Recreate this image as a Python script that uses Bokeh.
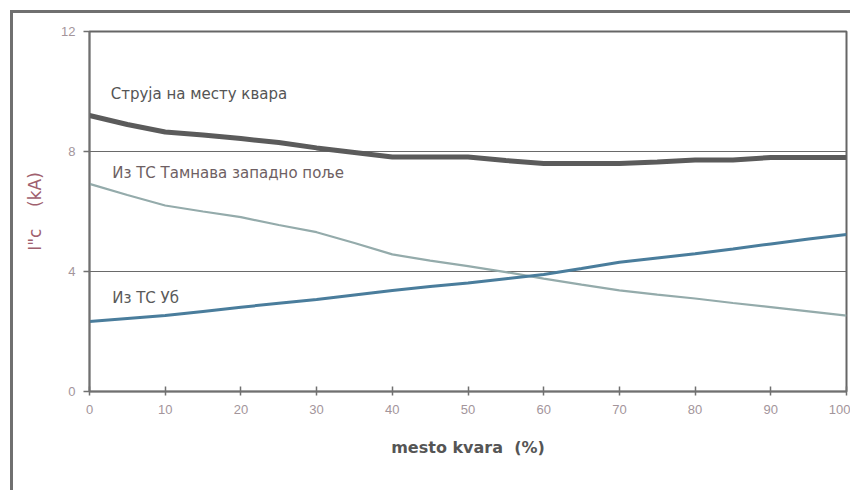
from bokeh.plotting import figure
from bokeh.embed import file_html
from bokeh.resources import INLINE
from bokeh.models import FixedTicker, Label

# fault location (%)
x_pos = [0, 5, 10, 15, 20, 25, 30, 35, 40, 45, 50, 55, 60, 65, 70, 75, 80, 85, 90, 95, 100]
# fault current at fault location (kA)
i_fault = [9.2, 8.9, 8.65, 8.55, 8.43, 8.3, 8.12, 7.97, 7.82, 7.82, 7.82, 7.7, 7.6, 7.6, 7.6, 7.65, 7.72, 7.72, 7.8, 7.8, 7.8]
# from substation Tamnava west field (kA)
i_tamnava = [6.92, 6.55, 6.2, 6.0, 5.81, 5.55, 5.31, 4.95, 4.57, 4.36, 4.18, 3.98, 3.76, 3.56, 3.37, 3.23, 3.1, 2.95, 2.81, 2.67, 2.53]
# from substation Ub (kA)
i_ub = [2.33, 2.43, 2.53, 2.67, 2.81, 2.94, 3.07, 3.22, 3.37, 3.5, 3.62, 3.76, 3.9, 4.1, 4.31, 4.45, 4.59, 4.75, 4.92, 5.08, 5.23]

x_ticks = [0, 10, 20, 30, 40, 50, 60, 70, 80, 90, 100]
y_ticks = [0, 4, 8, 12]

series_labels = ["Струја на месту квара", "Из ТС Тамнава западно поље", "Из ТС Уб"]
label_x = [2.8, 3.0, 3.0]
label_y = [9.93, 7.3, 3.13]

W, H = 840, 480
p = figure(width=W, height=H, x_range=(0, 100), y_range=(0, 12),
           output_backend="svg", toolbar_location=None,
           min_border_left=76, min_border_right=7, min_border_top=18, min_border_bottom=102)
p.margin = (10, 0, 0, 10)
p.styles = {"border-left": "3px solid #707070", "border-top": "3px solid #707070"}

p.background_fill_color = "white"
p.border_fill_color = "white"
p.outline_line_color = "#666666"
p.outline_line_width = 2

tick_col = "#a3959b"
ax_col = "#707070"
for ax in (p.xaxis[0], p.yaxis[0]):
    ax.axis_line_color = ax_col
    ax.axis_line_width = 1.5
    ax.major_tick_line_color = ax_col
    ax.major_tick_line_width = 1.5
    ax.minor_tick_line_color = None
    ax.major_label_text_color = tick_col
    ax.major_label_text_font = "Liberation Sans"
    ax.major_label_text_font_size = "13px"

p.xaxis.ticker = FixedTicker(ticks=x_ticks)
p.yaxis.ticker = FixedTicker(ticks=y_ticks)
p.xaxis.major_tick_in = 5
p.xaxis.major_tick_out = 4
p.yaxis.major_tick_in = 0
p.yaxis.major_tick_out = 6
p.xaxis.major_label_standoff = 9
p.yaxis.major_label_standoff = 8

p.xaxis.axis_label = "mesto kvara\u00a0\u00a0(%)"
p.xaxis.axis_label_text_font = "DejaVu Sans"
p.xaxis.axis_label_text_font_style = "bold"
p.xaxis.axis_label_text_font_size = "16px"
p.xaxis.axis_label_text_color = "#555555"
p.xaxis.axis_label_standoff = 21

p.yaxis.axis_label = 'I"c\u00a0\u00a0\u00a0\u00a0(kA)'
p.yaxis.axis_label_text_font = "DejaVu Sans"
p.yaxis.axis_label_text_font_style = "normal"
p.yaxis.axis_label_text_font_size = "17px"
p.yaxis.axis_label_text_color = "#a0606e"
p.yaxis.axis_label_standoff = 13

p.xgrid.grid_line_color = None
p.ygrid.grid_line_color = "#6a6a6a"
p.ygrid.grid_line_width = 1.2

p.line(x_pos, i_fault, line_color="#5b5b5b", line_width=5)
p.line(x_pos, i_tamnava, line_color="#94abab", line_width=2.2)
p.line(x_pos, i_ub, line_color="#4a7d9c", line_width=3)

cols = ["#555555", "#6e5f63", "#5a5a5a"]
for t, lx, ly, c in zip(series_labels, label_x, label_y, cols):
    p.add_layout(Label(x=lx, y=ly, text=t, text_font="DejaVu Sans", text_font_size="15px",
                       text_color=c, text_baseline="middle"))

open("out.html", "w").write(file_html(p, INLINE))
